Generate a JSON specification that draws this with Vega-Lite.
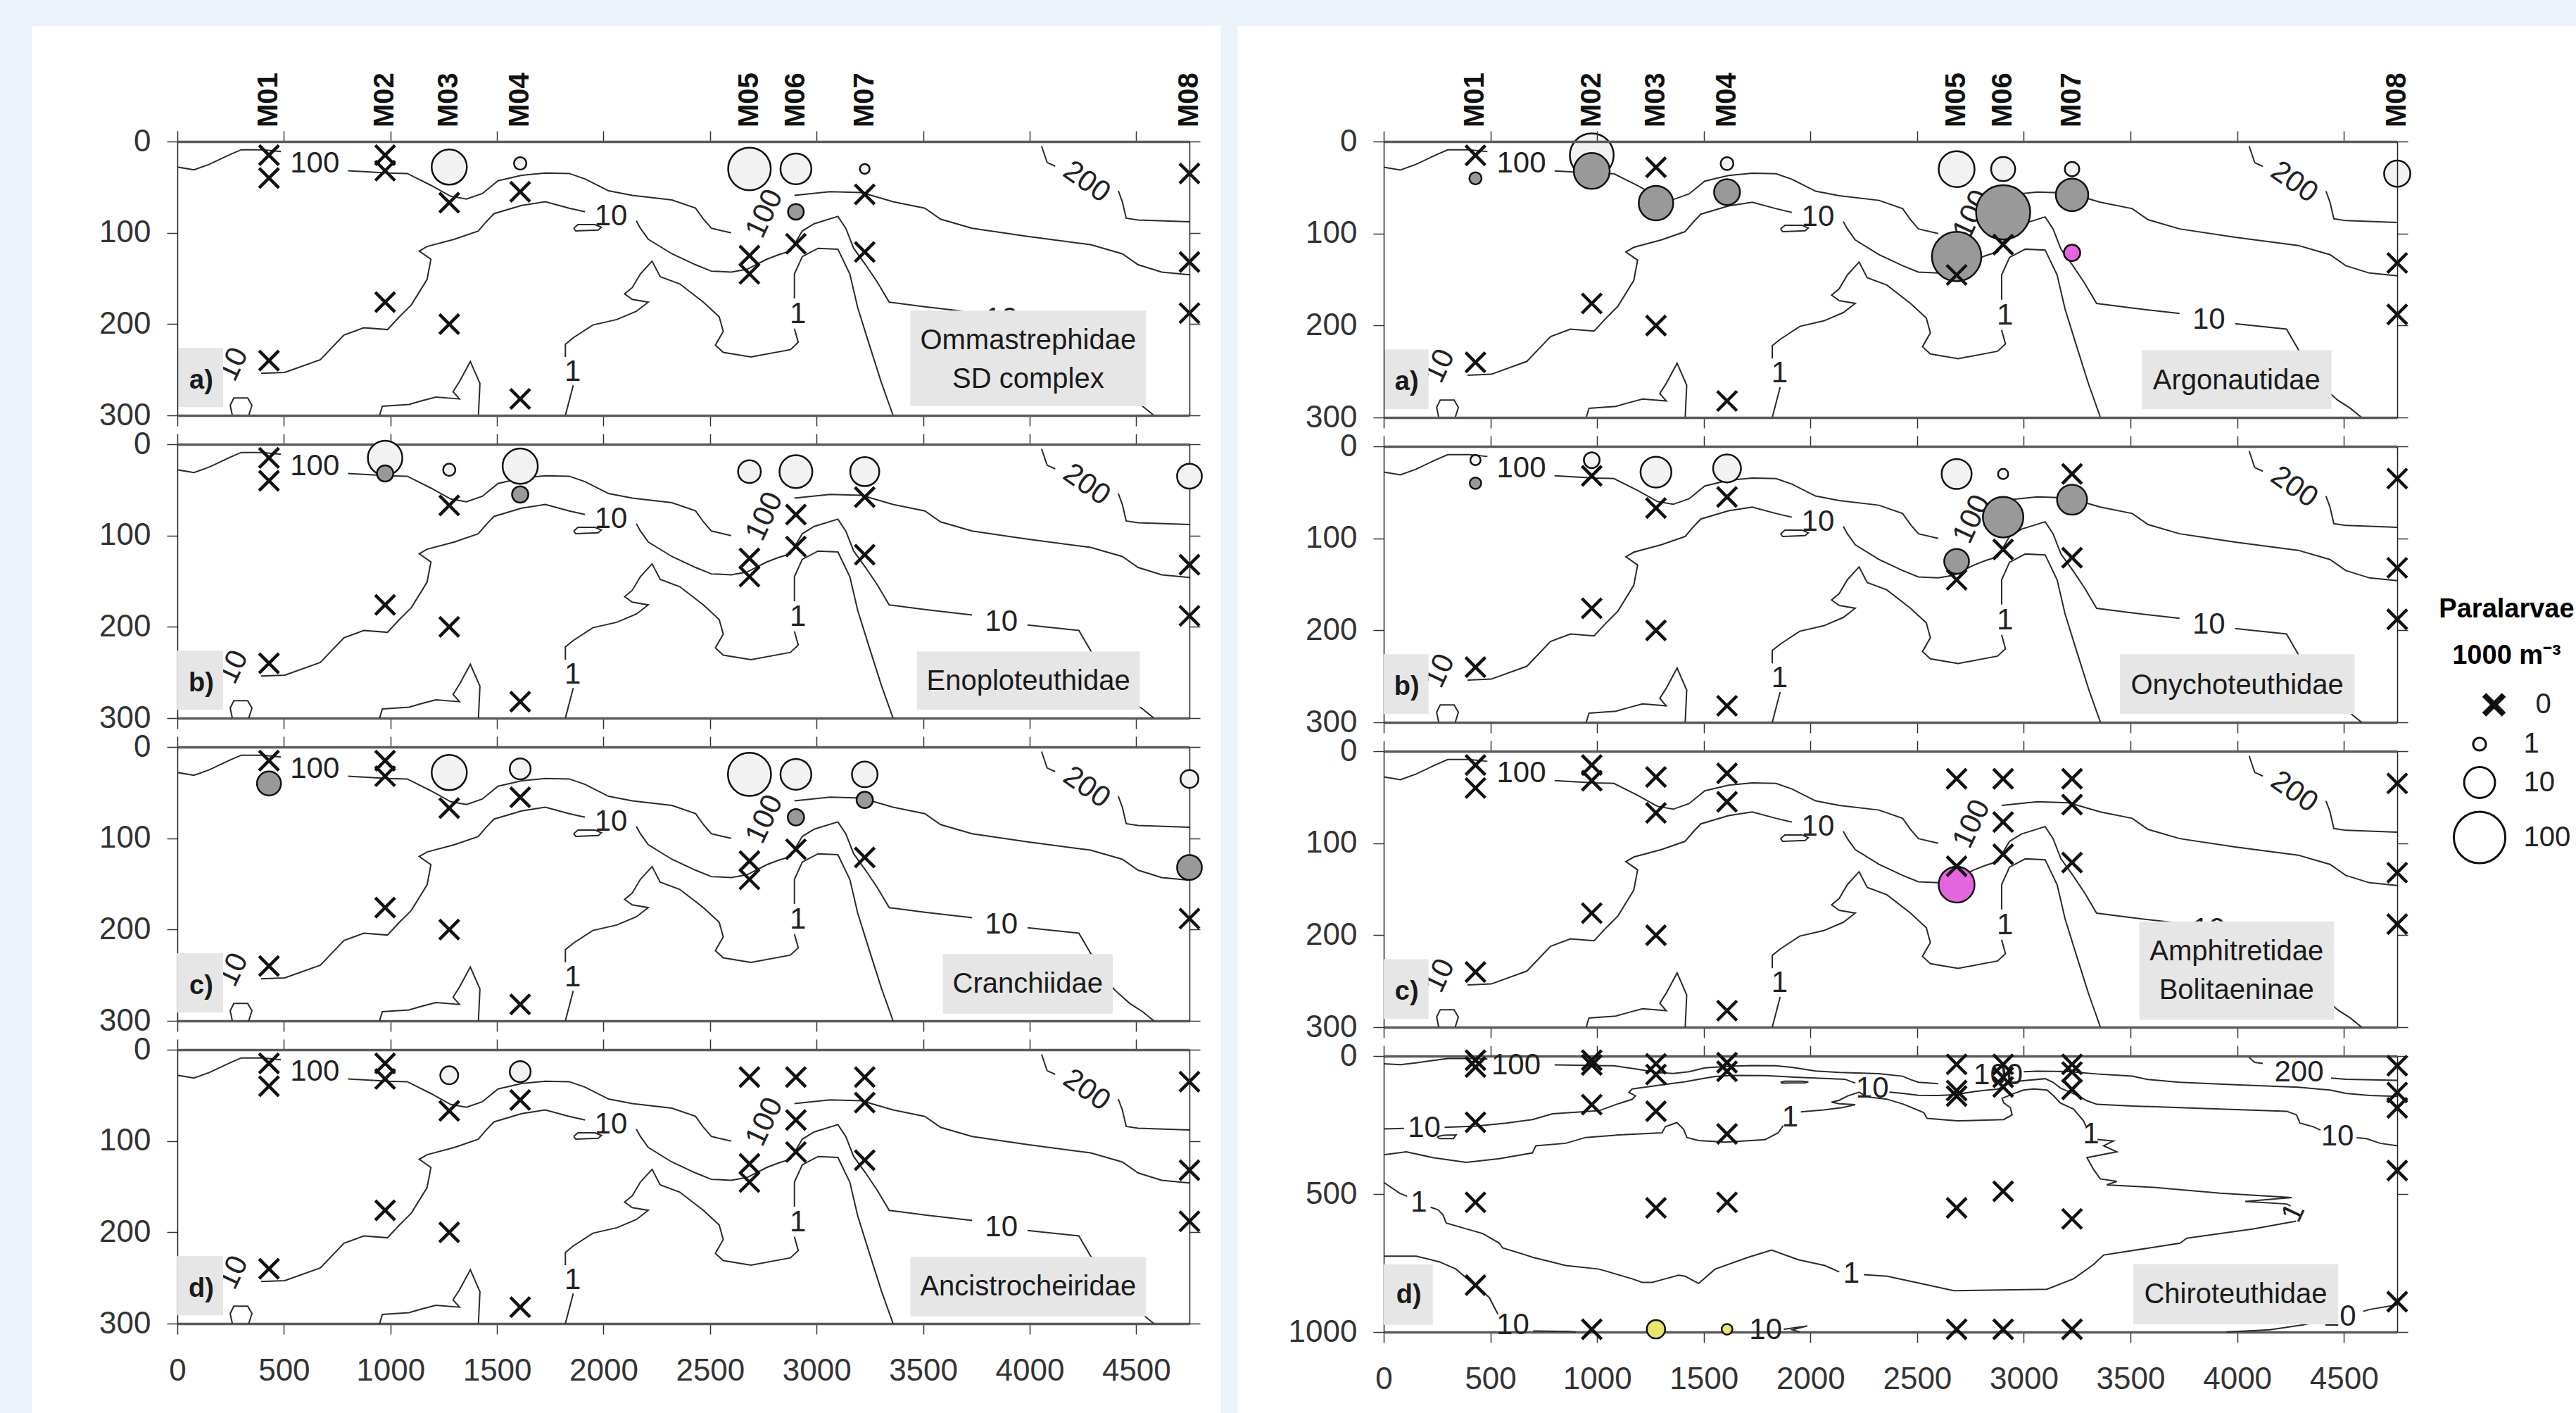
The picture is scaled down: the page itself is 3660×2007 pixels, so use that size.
{
"$schema":"https://vega.github.io/schema/vega-lite/v6.json",
"background":"#EBF2FA",
"padding":{"left":45,"top":36,"right":0,"bottom":0},
"autosize":{"type":"pad"},
"spacing":23,
"resolve":{"scale":{"size":"independent","fill":"independent","shape":"independent"}},
"config":{
 "view":{"stroke":null},
 "axis":{"domainColor":"#222222","domainWidth":1.5,"tickColor":"#333333","tickWidth":1.5,"tickSize":15,"labelFont":"Liberation Sans","labelFontSize":44,"labelColor":"#333333","labelFlush":false,"labelOverlap":false,"grid":false},
 "axisX":{"domainColor":"#5a5a5a","domainWidth":3.5,"labelPadding":30},
 "axisY":{"labelPadding":23},
 "text":{"font":"Liberation Sans"}
},
"datasets":{
"stations":[{"st":"M01","dist":430},{"st":"M02","dist":975},{"st":"M03","dist":1276},{"st":"M04","dist":1609},{"st":"M05","dist":2685},{"st":"M06","dist":2903},{"st":"M07","dist":3226},{"st":"M08","dist":4750}],
"c1":[
{"s":"h1","x":0,"y":28},{"s":"h1","x":78,"y":31},{"s":"h1","x":150,"y":25},{"s":"h1","x":250,"y":14},{"s":"h1","x":300,"y":9},{"s":"h1","x":400,"y":9},{"s":"h1","x":486,"y":11},
{"s":"h2","x":801,"y":32},{"s":"h2","x":986,"y":34.5},{"s":"h2","x":1079,"y":35},{"s":"h2","x":1190,"y":48},{"s":"h2","x":1283,"y":60},{"s":"h2","x":1357,"y":63},{"s":"h2","x":1431,"y":57},{"s":"h2","x":1505,"y":43},{"s":"h2","x":1616,"y":37},{"s":"h2","x":1727,"y":34.5},{"s":"h2","x":1839,"y":35},{"s":"h2","x":1913,"y":41},{"s":"h2","x":2024,"y":54},{"s":"h2","x":2135,"y":59},{"s":"h2","x":2321,"y":64},{"s":"h2","x":2432,"y":73},{"s":"h2","x":2469,"y":85},{"s":"h2","x":2506,"y":95},{"s":"h2","x":2599,"y":100},
{"s":"h3","x":2896,"y":59},{"s":"h3","x":3063,"y":55},{"s":"h3","x":3211,"y":56},{"s":"h3","x":3359,"y":66},{"s":"h3","x":3508,"y":73},{"s":"h3","x":3582,"y":85},{"s":"h3","x":3730,"y":95},{"s":"h3","x":3990,"y":104},{"s":"h3","x":4286,"y":113},{"s":"h3","x":4435,"y":123},{"s":"h3","x":4509,"y":135},{"s":"h3","x":4620,"y":143},{"s":"h3","x":4750,"y":146},
{"s":"t1","x":4056,"y":5},{"s":"t1","x":4082,"y":23},{"s":"t1","x":4120,"y":27},
{"s":"t2","x":4416,"y":54},{"s":"t2","x":4435,"y":66},{"s":"t2","x":4453,"y":84},{"s":"t2","x":4509,"y":86},{"s":"t2","x":4750,"y":88},
{"s":"d1","x":393,"y":254},{"s":"d1","x":504,"y":253},{"s":"d1","x":671,"y":239},{"s":"d1","x":782,"y":212},{"s":"d1","x":875,"y":204},{"s":"d1","x":986,"y":206},{"s":"d1","x":1042,"y":192},{"s":"d1","x":1098,"y":179},{"s":"d1","x":1172,"y":151},{"s":"d1","x":1190,"y":129},{"s":"d1","x":1135,"y":120},{"s":"d1","x":1172,"y":115},{"s":"d1","x":1301,"y":107},{"s":"d1","x":1412,"y":98},{"s":"d1","x":1449,"y":88},{"s":"d1","x":1486,"y":79},{"s":"d1","x":1616,"y":70},{"s":"d1","x":1727,"y":66},{"s":"d1","x":1839,"y":73},{"s":"d1","x":1913,"y":77},
{"s":"d2","x":2154,"y":87},{"s":"d2","x":2173,"y":95},{"s":"d2","x":2210,"y":107},{"s":"d2","x":2321,"y":123},{"s":"d2","x":2432,"y":135},{"s":"d2","x":2506,"y":142},{"s":"d2","x":2599,"y":143},{"s":"d2","x":2673,"y":140},{"s":"d2","x":2766,"y":129},{"s":"d2","x":2822,"y":124},{"s":"d2","x":2877,"y":120},{"s":"d2","x":2933,"y":98},{"s":"d2","x":2989,"y":90},{"s":"d2","x":3100,"y":82},{"s":"d2","x":3137,"y":95},{"s":"d2","x":3174,"y":117},{"s":"d2","x":3230,"y":135},{"s":"d2","x":3285,"y":154},{"s":"d2","x":3341,"y":176},{"s":"d2","x":3508,"y":181},{"s":"d2","x":3730,"y":187},
{"s":"d3","x":3990,"y":198},{"s":"d3","x":4231,"y":204},{"s":"d3","x":4286,"y":226},{"s":"d3","x":4340,"y":250},{"s":"d3","x":4398,"y":266},{"s":"d3","x":4470,"y":281},{"s":"d3","x":4530,"y":290},{"s":"d3","x":4583,"y":300},
{"s":"u1","x":1821,"y":300},{"s":"u1","x":1858,"y":267},
{"s":"u2","x":1821,"y":236},{"s":"u2","x":1821,"y":222},{"s":"u2","x":1858,"y":215},{"s":"u2","x":1950,"y":201},{"s":"u2","x":2062,"y":195},{"s":"u2","x":2154,"y":186},{"s":"u2","x":2210,"y":176},{"s":"u2","x":2135,"y":173},{"s":"u2","x":2099,"y":167},{"s":"u2","x":2135,"y":160},{"s":"u2","x":2173,"y":145},{"s":"u2","x":2228,"y":131},{"s":"u2","x":2266,"y":148},{"s":"u2","x":2358,"y":156},{"s":"u2","x":2469,"y":176},{"s":"u2","x":2543,"y":192},{"s":"u2","x":2562,"y":208},{"s":"u2","x":2525,"y":223},{"s":"u2","x":2562,"y":231},{"s":"u2","x":2692,"y":236},{"s":"u2","x":2877,"y":228},{"s":"u2","x":2914,"y":220},{"s":"u2","x":2896,"y":205},
{"s":"u3","x":2896,"y":172},{"s":"u3","x":2896,"y":145},{"s":"u3","x":2933,"y":126},{"s":"u3","x":3007,"y":117},{"s":"u3","x":3100,"y":118},{"s":"u3","x":3156,"y":145},{"s":"u3","x":3193,"y":182},{"s":"u3","x":3248,"y":223},{"s":"u3","x":3304,"y":264},{"s":"u3","x":3359,"y":300},
{"s":"b1","x":949,"y":300},{"s":"b1","x":962,"y":290},{"s":"b1","x":1087,"y":288},{"s":"b1","x":1147,"y":284},{"s":"b1","x":1213,"y":280},{"s":"b1","x":1324,"y":282},{"s":"b1","x":1294,"y":274},{"s":"b1","x":1324,"y":263},{"s":"b1","x":1375,"y":241},{"s":"b1","x":1420,"y":265},{"s":"b1","x":1413,"y":300},
{"s":"lp","x":258,"y":300},{"s":"lp","x":248,"y":289},{"s":"lp","x":265,"y":281},{"s":"lp","x":330,"y":281},{"s":"lp","x":350,"y":289},{"s":"lp","x":335,"y":300},
{"s":"q","x":1860,"y":95},{"s":"q","x":1880,"y":91},{"s":"q","x":1960,"y":91},{"s":"q","x":1990,"y":94},{"s":"q","x":1975,"y":97},{"s":"q","x":1870,"y":98},{"s":"q","x":1860,"y":95}
],
"c1lab":[
{"t":"100","x":645,"y":24,"o":"flat"},{"t":"10","x":2035,"y":82,"o":"flat"},{"t":"100","x":2755,"y":79,"o":"up"},{"t":"200","x":4268,"y":44,"o":"down"},{"t":"1","x":1855,"y":252,"o":"flat"},{"t":"1","x":2912,"y":189,"o":"flat"},{"t":"10","x":262,"y":244,"o":"up"},{"t":"10","x":3867,"y":194,"o":"flat"}
],
"c2":[
{"s":"h1","x":0,"y":28},{"s":"h1","x":78,"y":31},{"s":"h1","x":150,"y":25},{"s":"h1","x":250,"y":14},{"s":"h1","x":300,"y":9},{"s":"h1","x":400,"y":9},{"s":"h1","x":486,"y":11},
{"s":"h2","x":801,"y":32},{"s":"h2","x":986,"y":34.5},{"s":"h2","x":1079,"y":35},{"s":"h2","x":1190,"y":48},{"s":"h2","x":1283,"y":60},{"s":"h2","x":1357,"y":63},{"s":"h2","x":1431,"y":57},{"s":"h2","x":1505,"y":43},{"s":"h2","x":1616,"y":37},{"s":"h2","x":1727,"y":34.5},{"s":"h2","x":1839,"y":35},{"s":"h2","x":1913,"y":41},{"s":"h2","x":2024,"y":54},{"s":"h2","x":2135,"y":59},{"s":"h2","x":2321,"y":64},{"s":"h2","x":2432,"y":73},{"s":"h2","x":2469,"y":85},{"s":"h2","x":2506,"y":95},{"s":"h2","x":2599,"y":100},
{"s":"h3","x":3000,"y":57},{"s":"h3","x":3063,"y":55},{"s":"h3","x":3211,"y":56},{"s":"h3","x":3359,"y":66},{"s":"h3","x":3508,"y":73},{"s":"h3","x":3582,"y":85},{"s":"h3","x":3730,"y":95},{"s":"h3","x":3990,"y":104},{"s":"h3","x":4286,"y":113},{"s":"h3","x":4435,"y":123},{"s":"h3","x":4509,"y":135},{"s":"h3","x":4620,"y":143},{"s":"h3","x":4750,"y":146},
{"s":"t1","x":4056,"y":5},{"s":"t1","x":4082,"y":23},{"s":"t1","x":4120,"y":27},
{"s":"t2","x":4440,"y":80},{"s":"t2","x":4509,"y":84},{"s":"t2","x":4750,"y":88},
{"s":"q","x":1860,"y":95},{"s":"q","x":1880,"y":91},{"s":"q","x":1960,"y":91},{"s":"q","x":1990,"y":94},{"s":"q","x":1975,"y":97},{"s":"q","x":1870,"y":98},{"s":"q","x":1860,"y":95},
{"s":"D0","x":0,"y":264},{"s":"D0","x":95,"y":262},
{"s":"D1a","x":285,"y":258},{"s":"D1a","x":433,"y":254},{"s":"D1a","x":573,"y":243},{"s":"D1a","x":697,"y":230},{"s":"D1a","x":791,"y":209},{"s":"D1a","x":915,"y":203},{"s":"D1a","x":1009,"y":198},{"s":"D1a","x":1102,"y":172},{"s":"D1a","x":1164,"y":157},{"s":"D1a","x":1180,"y":144},{"s":"D1a","x":1149,"y":132},{"s":"D1a","x":1164,"y":119},{"s":"D1a","x":1289,"y":106},{"s":"D1a","x":1413,"y":93},{"s":"D1a","x":1476,"y":84},{"s":"D1a","x":1553,"y":74},{"s":"D1a","x":1631,"y":70},{"s":"D1a","x":1787,"y":71},{"s":"D1a","x":1943,"y":77},{"s":"D1a","x":2161,"y":84},{"s":"D1a","x":2210,"y":98},
{"s":"D1b","x":2370,"y":131},{"s":"D1b","x":2432,"y":135},{"s":"D1b","x":2506,"y":142},{"s":"D1b","x":2599,"y":143},{"s":"D1b","x":2673,"y":140},{"s":"D1b","x":2766,"y":129},{"s":"D1b","x":2822,"y":124},{"s":"D1b","x":2877,"y":120},{"s":"D1b","x":2933,"y":98},{"s":"D1b","x":2989,"y":90},{"s":"D1b","x":3100,"y":82},{"s":"D1b","x":3137,"y":95},{"s":"D1b","x":3174,"y":117},{"s":"D1b","x":3233,"y":136},{"s":"D1b","x":3296,"y":162},{"s":"D1b","x":3343,"y":175},{"s":"D1b","x":3508,"y":181},{"s":"D1b","x":3730,"y":187},{"s":"D1b","x":3920,"y":192},{"s":"D1b","x":4232,"y":200},{"s":"D1b","x":4278,"y":213},{"s":"D1b","x":4294,"y":243},{"s":"D1b","x":4356,"y":256},{"s":"D1b","x":4390,"y":268},
{"s":"D1c","x":4560,"y":296},{"s":"D1c","x":4606,"y":299},{"s":"D1c","x":4669,"y":316},{"s":"D1c","x":4752,"y":325},
{"s":"LP2","x":250,"y":292},{"s":"LP2","x":280,"y":287},{"s":"LP2","x":339,"y":286},{"s":"LP2","x":327,"y":299},{"s":"LP2","x":262,"y":299},{"s":"LP2","x":250,"y":292},
{"s":"B1","x":0,"y":358},{"s":"B1","x":106,"y":347},{"s":"B1","x":230,"y":368},{"s":"B1","x":386,"y":385},{"s":"B1","x":542,"y":372},{"s":"B1","x":697,"y":351},{"s":"B1","x":713,"y":325},{"s":"B1","x":853,"y":316},{"s":"B1","x":946,"y":295},{"s":"B1","x":1102,"y":286},{"s":"B1","x":1304,"y":278},{"s":"B1","x":1320,"y":256},{"s":"B1","x":1374,"y":241},{"s":"B1","x":1405,"y":265},{"s":"B1","x":1421,"y":295},{"s":"B1","x":1476,"y":306},{"s":"B1","x":1600,"y":312},{"s":"B1","x":1787,"y":303},{"s":"B1","x":1849,"y":278},{"s":"B1","x":1872,"y":252},
{"s":"B2","x":1955,"y":202},{"s":"B2","x":2062,"y":195},{"s":"B2","x":2154,"y":186},{"s":"B2","x":2210,"y":176},{"s":"B2","x":2135,"y":173},{"s":"B2","x":2099,"y":167},{"s":"B2","x":2135,"y":160},{"s":"B2","x":2173,"y":145},{"s":"B2","x":2228,"y":131},{"s":"B2","x":2266,"y":148},{"s":"B2","x":2358,"y":156},{"s":"B2","x":2438,"y":175},{"s":"B2","x":2531,"y":205},{"s":"B2","x":2547,"y":226},{"s":"B2","x":2687,"y":235},{"s":"B2","x":2906,"y":230},{"s":"B2","x":2945,"y":213},{"s":"B2","x":2937,"y":187},{"s":"B2","x":2906,"y":170},{"s":"B2","x":2898,"y":153},{"s":"B2","x":2952,"y":136},{"s":"B2","x":2999,"y":123},{"s":"B2","x":3046,"y":119},{"s":"B2","x":3108,"y":123},{"s":"B2","x":3140,"y":144},{"s":"B2","x":3171,"y":170},{"s":"B2","x":3233,"y":192},{"s":"B2","x":3280,"y":235},{"s":"B2","x":3292,"y":255},
{"s":"B3","x":3345,"y":302},{"s":"B3","x":3420,"y":308},{"s":"B3","x":3374,"y":325},{"s":"B3","x":3436,"y":347},{"s":"B3","x":3296,"y":368},{"s":"B3","x":3327,"y":411},{"s":"B3","x":3358,"y":445},{"s":"B3","x":3436,"y":454},{"s":"B3","x":3389,"y":467},{"s":"B3","x":3608,"y":476},{"s":"B3","x":3920,"y":497},{"s":"B3","x":4255,"y":513},{"s":"B3","x":4037,"y":527},{"s":"B3","x":4232,"y":536},{"s":"B3","x":4250,"y":543},
{"s":"B4","x":4276,"y":598},{"s":"B4","x":4076,"y":626},{"s":"B4","x":3764,"y":660},{"s":"B4","x":3732,"y":678},{"s":"B4","x":3374,"y":721},{"s":"B4","x":3327,"y":755},{"s":"B4","x":3233,"y":807},{"s":"B4","x":3108,"y":845},{"s":"B4","x":2672,"y":850},{"s":"B4","x":2360,"y":798},{"s":"B4","x":2250,"y":792},
{"s":"B5","x":2135,"y":782},{"s":"B5","x":2067,"y":759},{"s":"B5","x":1943,"y":738},{"s":"B5","x":1818,"y":703},{"s":"B5","x":1709,"y":729},{"s":"B5","x":1553,"y":772},{"s":"B5","x":1476,"y":824},{"s":"B5","x":1413,"y":798},{"s":"B5","x":1382,"y":794},{"s":"B5","x":1320,"y":807},{"s":"B5","x":1258,"y":820},{"s":"B5","x":1211,"y":820},{"s":"B5","x":1164,"y":807},{"s":"B5","x":1009,"y":772},{"s":"B5","x":853,"y":759},{"s":"B5","x":697,"y":729},{"s":"B5","x":666,"y":721},{"s":"B5","x":557,"y":695},{"s":"B5","x":542,"y":678},{"s":"B5","x":464,"y":643},{"s":"B5","x":386,"y":626},{"s":"B5","x":293,"y":605},{"s":"B5","x":277,"y":574},{"s":"B5","x":254,"y":557},{"s":"B5","x":220,"y":548},
{"s":"B6","x":110,"y":508},{"s":"B6","x":75,"y":497},{"s":"B6","x":0,"y":458},
{"s":"E1","x":0,"y":725},{"s":"E1","x":153,"y":725},{"s":"E1","x":262,"y":746},{"s":"E1","x":339,"y":772},{"s":"E1","x":417,"y":824},{"s":"E1","x":495,"y":875},{"s":"E1","x":518,"y":910},{"s":"E1","x":535,"y":935},
{"s":"E2","x":700,"y":996},{"s":"E2","x":869,"y":998},{"s":"E2","x":900,"y":1000},
{"s":"E3","x":1875,"y":990},{"s":"E3","x":1985,"y":978},{"s":"E3","x":1915,"y":992},{"s":"E3","x":1950,"y":1000},
{"s":"E4","x":3951,"y":1000},{"s":"E4","x":4154,"y":992},{"s":"E4","x":4310,"y":974},{"s":"E4","x":4380,"y":962},
{"s":"E5","x":4590,"y":925},{"s":"E5","x":4622,"y":918},{"s":"E5","x":4752,"y":901}
],
"c2lab":[
{"t":"100","x":620,"y":33,"o":"flat"},{"t":"100","x":2880,"y":70,"o":"flat"},{"t":"200","x":4290,"y":58,"o":"flat"},{"t":"10","x":190,"y":260,"o":"flat"},{"t":"10","x":2290,"y":118,"o":"flat"},{"t":"1","x":1905,"y":222,"o":"flat"},{"t":"1","x":3315,"y":282,"o":"flat"},{"t":"1","x":4263,"y":568,"o":"up"},{"t":"1","x":2192,"y":789,"o":"flat"},{"t":"1","x":165,"y":530,"o":"flat"},{"t":"10","x":4470,"y":290,"o":"flat"},{"t":"10","x":605,"y":975,"o":"flat"},{"t":"10","x":1790,"y":992,"o":"flat"},{"t":"10","x":4480,"y":944,"o":"flat"}
],
"boxes":[
{"p":"La","k":"sp","x1":3440,"x2":4546,"y1":185,"y2":290,"xc":3993,"yc":218,"lab":["Ommastrephidae","SD complex"]},
{"p":"La","k":"let","x1":0,"x2":215,"y1":226,"y2":291,"xc":112,"yc":262,"lab":"a)"},
{"p":"Lb","k":"sp","x1":3471,"x2":4517,"y1":227,"y2":291,"xc":3994,"yc":260,"lab":"Enoploteuthidae"},
{"p":"Lb","k":"let","x1":0,"x2":215,"y1":226,"y2":291,"xc":112,"yc":262,"lab":"b)"},
{"p":"Lc","k":"sp","x1":3593,"x2":4390,"y1":227,"y2":292,"xc":3991,"yc":260,"lab":"Cranchiidae"},
{"p":"Lc","k":"let","x1":0,"x2":215,"y1":226,"y2":291,"xc":112,"yc":262,"lab":"c)"},
{"p":"Ld","k":"sp","x1":3440,"x2":4546,"y1":227,"y2":292,"xc":3993,"yc":260,"lab":"Ancistrocheiridae"},
{"p":"Ld","k":"let","x1":0,"x2":215,"y1":226,"y2":291,"xc":112,"yc":262,"lab":"d)"},
{"p":"Ra","k":"sp","x1":3553,"x2":4442,"y1":227,"y2":291,"xc":3997,"yc":260,"lab":"Argonautidae"},
{"p":"Ra","k":"let","x1":0,"x2":210,"y1":226,"y2":291,"xc":108,"yc":262,"lab":"a)"},
{"p":"Rb","k":"sp","x1":3450,"x2":4550,"y1":226,"y2":291,"xc":4000,"yc":260,"lab":"Onychoteuthidae"},
{"p":"Rb","k":"let","x1":0,"x2":210,"y1":226,"y2":291,"xc":108,"yc":262,"lab":"b)"},
{"p":"Rc","k":"sp","x1":3541,"x2":4454,"y1":185,"y2":292,"xc":3997,"yc":218,"lab":["Amphitretidae","Bolitaeninae"]},
{"p":"Rc","k":"let","x1":0,"x2":210,"y1":226,"y2":291,"xc":108,"yc":262,"lab":"c)"},
{"p":"Rd","k":"sp","x1":3513,"x2":4474,"y1":754,"y2":972,"xc":3993,"yc":865,"lab":"Chiroteuthidae"},
{"p":"Rd","k":"let","x1":0,"x2":230,"y1":755,"y2":974,"xc":118,"yc":868,"lab":"d)"}
],
"obs":[
{"p":"La","dist":430,"depth":15,"abund":0},{"p":"La","dist":430,"depth":40,"abund":0},{"p":"La","dist":430,"depth":240,"abund":0},
{"p":"La","dist":975,"depth":15,"abund":0},{"p":"La","dist":975,"depth":32,"abund":0},{"p":"La","dist":975,"depth":176,"abund":0},
{"p":"La","dist":1276,"depth":28,"abund":15,"grp":"g1"},{"p":"La","dist":1276,"depth":67,"abund":0},{"p":"La","dist":1276,"depth":200,"abund":0},
{"p":"La","dist":1609,"depth":24,"abund":0.95,"grp":"g1"},{"p":"La","dist":1609,"depth":55,"abund":0},{"p":"La","dist":1609,"depth":282,"abund":0},
{"p":"La","dist":2685,"depth":30,"abund":33,"grp":"g1"},{"p":"La","dist":2685,"depth":125,"abund":0},{"p":"La","dist":2685,"depth":145,"abund":0},
{"p":"La","dist":2903,"depth":30,"abund":10,"grp":"g1"},{"p":"La","dist":2903,"depth":77,"abund":1.4,"grp":"g2"},{"p":"La","dist":2903,"depth":112,"abund":0},
{"p":"La","dist":3226,"depth":30,"abund":0.6,"grp":"g1"},{"p":"La","dist":3226,"depth":58,"abund":0},{"p":"La","dist":3226,"depth":121,"abund":0},
{"p":"La","dist":4750,"depth":35,"abund":0},{"p":"La","dist":4750,"depth":132,"abund":0},{"p":"La","dist":4750,"depth":188,"abund":0},
{"p":"Lb","dist":430,"depth":15,"abund":0},{"p":"Lb","dist":430,"depth":40,"abund":0},{"p":"Lb","dist":430,"depth":240,"abund":0},
{"p":"Lb","dist":975,"depth":15,"abund":14,"grp":"g1"},{"p":"Lb","dist":975,"depth":32,"abund":1.5,"grp":"g2"},{"p":"Lb","dist":975,"depth":176,"abund":0},
{"p":"Lb","dist":1276,"depth":28,"abund":0.92,"grp":"g1"},{"p":"Lb","dist":1276,"depth":67,"abund":0},{"p":"Lb","dist":1276,"depth":200,"abund":0},
{"p":"Lb","dist":1609,"depth":24,"abund":15,"grp":"g1"},{"p":"Lb","dist":1609,"depth":55,"abund":1.5,"grp":"g2"},{"p":"Lb","dist":1609,"depth":282,"abund":0},
{"p":"Lb","dist":2685,"depth":30,"abund":3.3,"grp":"g1"},{"p":"Lb","dist":2685,"depth":125,"abund":0},{"p":"Lb","dist":2685,"depth":145,"abund":0},
{"p":"Lb","dist":2903,"depth":30,"abund":12,"grp":"g1"},{"p":"Lb","dist":2903,"depth":77,"abund":0},{"p":"Lb","dist":2903,"depth":112,"abund":0},
{"p":"Lb","dist":3226,"depth":30,"abund":7.7,"grp":"g1"},{"p":"Lb","dist":3226,"depth":58,"abund":0},{"p":"Lb","dist":3226,"depth":121,"abund":0},
{"p":"Lb","dist":4750,"depth":35,"abund":4.3,"grp":"g1"},{"p":"Lb","dist":4750,"depth":132,"abund":0},{"p":"Lb","dist":4750,"depth":188,"abund":0},
{"p":"Lc","dist":430,"depth":15,"abund":0},{"p":"Lc","dist":430,"depth":40,"abund":3.9,"grp":"g2"},{"p":"Lc","dist":430,"depth":240,"abund":0},
{"p":"Lc","dist":975,"depth":15,"abund":0},{"p":"Lc","dist":975,"depth":32,"abund":0},{"p":"Lc","dist":975,"depth":176,"abund":0},
{"p":"Lc","dist":1276,"depth":28,"abund":15,"grp":"g1"},{"p":"Lc","dist":1276,"depth":67,"abund":0},{"p":"Lc","dist":1276,"depth":200,"abund":0},
{"p":"Lc","dist":1609,"depth":24,"abund":2.6,"grp":"g1"},{"p":"Lc","dist":1609,"depth":55,"abund":0},{"p":"Lc","dist":1609,"depth":282,"abund":0},
{"p":"Lc","dist":2685,"depth":30,"abund":35,"grp":"g1"},{"p":"Lc","dist":2685,"depth":125,"abund":0},{"p":"Lc","dist":2685,"depth":145,"abund":0},
{"p":"Lc","dist":2903,"depth":30,"abund":10,"grp":"g1"},{"p":"Lc","dist":2903,"depth":77,"abund":1.5,"grp":"g2"},{"p":"Lc","dist":2903,"depth":112,"abund":0},
{"p":"Lc","dist":3226,"depth":30,"abund":4.8,"grp":"g1"},{"p":"Lc","dist":3226,"depth":58,"abund":1.5,"grp":"g2"},{"p":"Lc","dist":3226,"depth":121,"abund":0},
{"p":"Lc","dist":4750,"depth":35,"abund":1.8,"grp":"g1"},{"p":"Lc","dist":4750,"depth":132,"abund":4.3,"grp":"g2"},{"p":"Lc","dist":4750,"depth":188,"abund":0},
{"p":"Ld","dist":430,"depth":15,"abund":0},{"p":"Ld","dist":430,"depth":40,"abund":0},{"p":"Ld","dist":430,"depth":240,"abund":0},
{"p":"Ld","dist":975,"depth":15,"abund":0},{"p":"Ld","dist":975,"depth":32,"abund":0},{"p":"Ld","dist":975,"depth":176,"abund":0},
{"p":"Ld","dist":1276,"depth":28,"abund":1.8,"grp":"g1"},{"p":"Ld","dist":1276,"depth":67,"abund":0},{"p":"Ld","dist":1276,"depth":200,"abund":0},
{"p":"Ld","dist":1609,"depth":24,"abund":2.6,"grp":"g1"},{"p":"Ld","dist":1609,"depth":55,"abund":0},{"p":"Ld","dist":1609,"depth":282,"abund":0},
{"p":"Ld","dist":2685,"depth":30,"abund":0},{"p":"Ld","dist":2685,"depth":125,"abund":0},{"p":"Ld","dist":2685,"depth":145,"abund":0},
{"p":"Ld","dist":2903,"depth":30,"abund":0},{"p":"Ld","dist":2903,"depth":77,"abund":0},{"p":"Ld","dist":2903,"depth":112,"abund":0},
{"p":"Ld","dist":3226,"depth":30,"abund":0},{"p":"Ld","dist":3226,"depth":58,"abund":0},{"p":"Ld","dist":3226,"depth":121,"abund":0},
{"p":"Ld","dist":4750,"depth":35,"abund":0},{"p":"Ld","dist":4750,"depth":132,"abund":0},{"p":"Ld","dist":4750,"depth":188,"abund":0},
{"p":"Ra","dist":430,"depth":15,"abund":0},{"p":"Ra","dist":430,"depth":40,"abund":0.9,"grp":"g2"},{"p":"Ra","dist":430,"depth":240,"abund":0},
{"p":"Ra","dist":975,"depth":15,"abund":38,"grp":"g1"},{"p":"Ra","dist":975,"depth":32,"abund":16,"grp":"g2"},{"p":"Ra","dist":975,"depth":176,"abund":0},
{"p":"Ra","dist":1276,"depth":28,"abund":0},{"p":"Ra","dist":1276,"depth":67,"abund":14,"grp":"g2"},{"p":"Ra","dist":1276,"depth":200,"abund":0},
{"p":"Ra","dist":1609,"depth":24,"abund":1,"grp":"g1"},{"p":"Ra","dist":1609,"depth":55,"abund":5,"grp":"g2"},{"p":"Ra","dist":1609,"depth":282,"abund":0},
{"p":"Ra","dist":2685,"depth":30,"abund":16,"grp":"g1"},{"p":"Ra","dist":2685,"depth":125,"abund":76,"grp":"g2"},{"p":"Ra","dist":2685,"depth":145,"abund":0},
{"p":"Ra","dist":2903,"depth":30,"abund":3.9,"grp":"g1"},{"p":"Ra","dist":2903,"depth":77,"abund":147,"grp":"g2"},{"p":"Ra","dist":2903,"depth":112,"abund":0},
{"p":"Ra","dist":3226,"depth":30,"abund":1.2,"grp":"g1"},{"p":"Ra","dist":3226,"depth":58,"abund":11.5,"grp":"g2"},{"p":"Ra","dist":3226,"depth":121,"abund":1.5,"grp":"g3"},
{"p":"Ra","dist":4750,"depth":35,"abund":5.2,"grp":"g1"},{"p":"Ra","dist":4750,"depth":132,"abund":0},{"p":"Ra","dist":4750,"depth":188,"abund":0},
{"p":"Rb","dist":430,"depth":15,"abund":0.65,"grp":"g1"},{"p":"Rb","dist":430,"depth":40,"abund":0.8,"grp":"g2"},{"p":"Rb","dist":430,"depth":240,"abund":0},
{"p":"Rb","dist":975,"depth":15,"abund":1.4,"grp":"g1"},{"p":"Rb","dist":975,"depth":32,"abund":0},{"p":"Rb","dist":975,"depth":176,"abund":0},
{"p":"Rb","dist":1276,"depth":28,"abund":10,"grp":"g1"},{"p":"Rb","dist":1276,"depth":67,"abund":0},{"p":"Rb","dist":1276,"depth":200,"abund":0},
{"p":"Rb","dist":1609,"depth":24,"abund":6.5,"grp":"g1"},{"p":"Rb","dist":1609,"depth":55,"abund":0},{"p":"Rb","dist":1609,"depth":282,"abund":0},
{"p":"Rb","dist":2685,"depth":30,"abund":8.8,"grp":"g1"},{"p":"Rb","dist":2685,"depth":125,"abund":4.3,"grp":"g2"},{"p":"Rb","dist":2685,"depth":145,"abund":0},
{"p":"Rb","dist":2903,"depth":30,"abund":0.65,"grp":"g1"},{"p":"Rb","dist":2903,"depth":77,"abund":26,"grp":"g2"},{"p":"Rb","dist":2903,"depth":112,"abund":0},
{"p":"Rb","dist":3226,"depth":30,"abund":0},{"p":"Rb","dist":3226,"depth":58,"abund":8.8,"grp":"g2"},{"p":"Rb","dist":3226,"depth":121,"abund":0},
{"p":"Rb","dist":4750,"depth":35,"abund":0},{"p":"Rb","dist":4750,"depth":132,"abund":0},{"p":"Rb","dist":4750,"depth":188,"abund":0},
{"p":"Rc","dist":430,"depth":15,"abund":0},{"p":"Rc","dist":430,"depth":40,"abund":0},{"p":"Rc","dist":430,"depth":240,"abund":0},
{"p":"Rc","dist":975,"depth":15,"abund":0},{"p":"Rc","dist":975,"depth":32,"abund":0},{"p":"Rc","dist":975,"depth":176,"abund":0},
{"p":"Rc","dist":1276,"depth":28,"abund":0},{"p":"Rc","dist":1276,"depth":67,"abund":0},{"p":"Rc","dist":1276,"depth":200,"abund":0},
{"p":"Rc","dist":1609,"depth":24,"abund":0},{"p":"Rc","dist":1609,"depth":55,"abund":0},{"p":"Rc","dist":1609,"depth":282,"abund":0},
{"p":"Rc","dist":2685,"depth":30,"abund":0},{"p":"Rc","dist":2685,"depth":125,"abund":0},{"p":"Rc","dist":2685,"depth":145,"abund":16,"grp":"g3"},
{"p":"Rc","dist":2903,"depth":30,"abund":0},{"p":"Rc","dist":2903,"depth":77,"abund":0},{"p":"Rc","dist":2903,"depth":112,"abund":0},
{"p":"Rc","dist":3226,"depth":30,"abund":0},{"p":"Rc","dist":3226,"depth":58,"abund":0},{"p":"Rc","dist":3226,"depth":121,"abund":0},
{"p":"Rc","dist":4750,"depth":35,"abund":0},{"p":"Rc","dist":4750,"depth":132,"abund":0},{"p":"Rc","dist":4750,"depth":188,"abund":0},
{"p":"Rd","dist":430,"depth":15,"abund":0},{"p":"Rd","dist":430,"depth":40,"abund":0},{"p":"Rd","dist":430,"depth":240,"abund":0},{"p":"Rd","dist":430,"depth":530,"abund":0},{"p":"Rd","dist":430,"depth":830,"abund":0},
{"p":"Rd","dist":975,"depth":15,"abund":0},{"p":"Rd","dist":975,"depth":32,"abund":0},{"p":"Rd","dist":975,"depth":176,"abund":0},{"p":"Rd","dist":975,"depth":990,"abund":0},
{"p":"Rd","dist":1276,"depth":28,"abund":0},{"p":"Rd","dist":1276,"depth":67,"abund":0},{"p":"Rd","dist":1276,"depth":200,"abund":0},{"p":"Rd","dist":1276,"depth":550,"abund":0},{"p":"Rd","dist":1276,"depth":990,"abund":1.9,"grp":"g4"},
{"p":"Rd","dist":1609,"depth":24,"abund":0},{"p":"Rd","dist":1609,"depth":55,"abund":0},{"p":"Rd","dist":1609,"depth":282,"abund":0},{"p":"Rd","dist":1609,"depth":530,"abund":0},{"p":"Rd","dist":1609,"depth":990,"abund":0.7,"grp":"g4"},
{"p":"Rd","dist":2685,"depth":30,"abund":0},{"p":"Rd","dist":2685,"depth":125,"abund":0},{"p":"Rd","dist":2685,"depth":145,"abund":0},{"p":"Rd","dist":2685,"depth":550,"abund":0},{"p":"Rd","dist":2685,"depth":990,"abund":0},
{"p":"Rd","dist":2903,"depth":30,"abund":0},{"p":"Rd","dist":2903,"depth":77,"abund":0},{"p":"Rd","dist":2903,"depth":112,"abund":0},{"p":"Rd","dist":2903,"depth":490,"abund":0},{"p":"Rd","dist":2903,"depth":990,"abund":0},
{"p":"Rd","dist":3226,"depth":30,"abund":0},{"p":"Rd","dist":3226,"depth":58,"abund":0},{"p":"Rd","dist":3226,"depth":121,"abund":0},{"p":"Rd","dist":3226,"depth":590,"abund":0},{"p":"Rd","dist":3226,"depth":990,"abund":0},
{"p":"Rd","dist":4750,"depth":35,"abund":0},{"p":"Rd","dist":4750,"depth":132,"abund":0},{"p":"Rd","dist":4750,"depth":188,"abund":0},{"p":"Rd","dist":4750,"depth":415,"abund":0},{"p":"Rd","dist":4750,"depth":890,"abund":0}
]
},
"hconcat":[
{"bounds":"flush","spacing":41,"resolve":{"scale":{"size":"independent","fill":"independent","shape":"independent"}},"vconcat":[
{"width":1438,"height":389,"resolve":{"axis":{"x":"independent","y":"independent"}},"layer":[
 {"data":{"values":[{}]},"mark":{"type":"rect","fill":"#ffffff"},"encoding":{"x":{"datum":-682,"type":"quantitative","scale":{"domain":[0,4750],"nice":false,"zero":false},"axis":null},"x2":{"datum":4897},"y":{"datum":-126.5,"type":"quantitative","scale":{"domain":[0,300],"nice":false,"zero":false,"reverse":true},"axis":null},"y2":{"datum":1393}}},
 {"data":{"name":"c1"},"mark":{"type":"line","color":"#2a2a2a","strokeWidth":2},"encoding":{"x":{"field":"x","type":"quantitative","scale":{"domain":[0,4750],"nice":false,"zero":false},"axis":{"orient":"bottom","zindex":1,"values":[0,500,1000,1500,2000,2500,3000,3500,4000,4500],"labels":false,"title":null}},"y":{"field":"y","type":"quantitative","scale":{"domain":[0,300],"nice":false,"zero":false,"reverse":true},"axis":{"orient":"left","zindex":1,"values":[0,100,200,300],"format":"d","title":null}},"detail":{"field":"s","type":"nominal"},"order":{"value":null}}},
 {"data":{"name":"c1lab"},"transform":[{"filter":"datum.o == 'flat'"}],"mark":{"type":"text","fontSize":42,"color":"#222222","align":"center","baseline":"middle"},"encoding":{"x":{"field":"x","type":"quantitative","scale":{"domain":[0,4750],"nice":false,"zero":false},"axis":null},"y":{"field":"y","type":"quantitative","scale":{"domain":[0,300],"nice":false,"zero":false,"reverse":true},"axis":null},"text":{"field":"t","type":"nominal"}}},
 {"data":{"name":"c1lab"},"transform":[{"filter":"datum.o == 'up'"}],"mark":{"type":"text","fontSize":42,"color":"#222222","align":"center","baseline":"middle","angle":295},"encoding":{"x":{"field":"x","type":"quantitative","scale":{"domain":[0,4750],"nice":false,"zero":false},"axis":null},"y":{"field":"y","type":"quantitative","scale":{"domain":[0,300],"nice":false,"zero":false,"reverse":true},"axis":null},"text":{"field":"t","type":"nominal"}}},
 {"data":{"name":"c1lab"},"transform":[{"filter":"datum.o == 'down'"}],"mark":{"type":"text","fontSize":42,"color":"#222222","align":"center","baseline":"middle","angle":35},"encoding":{"x":{"field":"x","type":"quantitative","scale":{"domain":[0,4750],"nice":false,"zero":false},"axis":null},"y":{"field":"y","type":"quantitative","scale":{"domain":[0,300],"nice":false,"zero":false,"reverse":true},"axis":null},"text":{"field":"t","type":"nominal"}}},
 {"data":{"name":"boxes"},"transform":[{"filter":"datum.p == 'La'"}],"mark":{"type":"rect","fill":"#E6E6E6"},"encoding":{"x":{"field":"x1","type":"quantitative","scale":{"domain":[0,4750],"nice":false,"zero":false},"axis":null},"x2":{"field":"x2"},"y":{"field":"y1","type":"quantitative","scale":{"domain":[0,300],"nice":false,"zero":false,"reverse":true},"axis":null},"y2":{"field":"y2"}}},
 {"data":{"name":"boxes"},"transform":[{"filter":"datum.p == 'La' && datum.k == 'sp'"}],"mark":{"type":"text","fontSize":40,"color":"#1a1a1a","align":"center","baseline":"middle","lineHeight":55},"encoding":{"x":{"field":"xc","type":"quantitative","scale":{"domain":[0,4750],"nice":false,"zero":false},"axis":null},"y":{"field":"yc","type":"quantitative","scale":{"domain":[0,300],"nice":false,"zero":false,"reverse":true},"axis":null},"text":{"field":"lab","type":"nominal"}}},
 {"data":{"name":"boxes"},"transform":[{"filter":"datum.p == 'La' && datum.k == 'let'"}],"mark":{"type":"text","fontSize":38,"fontWeight":"bold","color":"#1a1a1a","align":"center","baseline":"middle"},"encoding":{"x":{"field":"xc","type":"quantitative","scale":{"domain":[0,4750],"nice":false,"zero":false},"axis":null},"y":{"field":"yc","type":"quantitative","scale":{"domain":[0,300],"nice":false,"zero":false,"reverse":true},"axis":null},"text":{"field":"lab","type":"nominal"}}},
 {"data":{"name":"obs"},"transform":[{"filter":"datum.p == 'La' && datum.abund > 0"}],"mark":{"type":"point","shape":"circle","filled":true,"stroke":"#111111","strokeWidth":2.5,"opacity":1},"encoding":{"x":{"field":"dist","type":"quantitative","scale":{"domain":[0,4750],"nice":false,"zero":false},"axis":null},"y":{"field":"depth","type":"quantitative","scale":{"domain":[0,300],"nice":false,"zero":false,"reverse":true},"axis":null},"size":{"field":"abund","type":"quantitative","scale":{"type":"symlog","domain":[0,0.3,1,10,100],"range":[784,64,330,1924,5345]},"legend":null},"fill":{"field":"grp","type":"nominal","scale":{"domain":["g1","g2","g3","g4"],"range":["#F2F2F2","#999999","#E466DE","#EAE46E"]},"legend":null}}},
 {"data":{"name":"obs"},"transform":[{"filter":"datum.p == 'La' && datum.abund == 0"}],"mark":{"type":"point","shape":"M-1,-1L1,1M1,-1L-1,1","size":784,"filled":false,"stroke":"#111111","strokeWidth":4.5,"opacity":1},"encoding":{"x":{"field":"dist","type":"quantitative","scale":{"domain":[0,4750],"nice":false,"zero":false},"axis":{"orient":"top","zindex":1,"values":[0,500,1000,1500,2000,2500,3000,3500,4000,4500],"labels":false,"title":null}},"y":{"field":"depth","type":"quantitative","scale":{"domain":[0,300],"nice":false,"zero":false,"reverse":true},"axis":{"orient":"right","zindex":1,"values":[0,100,200,300],"labels":false,"title":null}}}},
 {"data":{"name":"stations"},"mark":{"type":"text","angle":270,"align":"left","baseline":"middle","dx":20,"fontSize":40,"fontWeight":"bold","color":"#111111"},"encoding":{"x":{"field":"dist","type":"quantitative","scale":{"domain":[0,4750],"nice":false,"zero":false},"axis":null},"y":{"datum":0,"type":"quantitative","scale":{"domain":[0,300],"nice":false,"zero":false,"reverse":true},"axis":null},"text":{"field":"st","type":"nominal"}}}
]},
{"width":1438,"height":389,"resolve":{"axis":{"x":"independent","y":"independent"}},"layer":[
 {"data":{"name":"c1"},"mark":{"type":"line","color":"#2a2a2a","strokeWidth":2},"encoding":{"x":{"field":"x","type":"quantitative","scale":{"domain":[0,4750],"nice":false,"zero":false},"axis":{"orient":"bottom","values":[0,500,1000,1500,2000,2500,3000,3500,4000,4500],"labels":false,"title":null}},"y":{"field":"y","type":"quantitative","scale":{"domain":[0,300],"nice":false,"zero":false,"reverse":true},"axis":{"orient":"left","values":[0,100,200,300],"format":"d","title":null}},"detail":{"field":"s","type":"nominal"},"order":{"value":null}}},
 {"data":{"name":"c1lab"},"transform":[{"filter":"datum.o == 'flat'"}],"mark":{"type":"text","fontSize":42,"color":"#222222","align":"center","baseline":"middle"},"encoding":{"x":{"field":"x","type":"quantitative","scale":{"domain":[0,4750],"nice":false,"zero":false},"axis":null},"y":{"field":"y","type":"quantitative","scale":{"domain":[0,300],"nice":false,"zero":false,"reverse":true},"axis":null},"text":{"field":"t","type":"nominal"}}},
 {"data":{"name":"c1lab"},"transform":[{"filter":"datum.o == 'up'"}],"mark":{"type":"text","fontSize":42,"color":"#222222","align":"center","baseline":"middle","angle":295},"encoding":{"x":{"field":"x","type":"quantitative","scale":{"domain":[0,4750],"nice":false,"zero":false},"axis":null},"y":{"field":"y","type":"quantitative","scale":{"domain":[0,300],"nice":false,"zero":false,"reverse":true},"axis":null},"text":{"field":"t","type":"nominal"}}},
 {"data":{"name":"c1lab"},"transform":[{"filter":"datum.o == 'down'"}],"mark":{"type":"text","fontSize":42,"color":"#222222","align":"center","baseline":"middle","angle":35},"encoding":{"x":{"field":"x","type":"quantitative","scale":{"domain":[0,4750],"nice":false,"zero":false},"axis":null},"y":{"field":"y","type":"quantitative","scale":{"domain":[0,300],"nice":false,"zero":false,"reverse":true},"axis":null},"text":{"field":"t","type":"nominal"}}},
 {"data":{"name":"boxes"},"transform":[{"filter":"datum.p == 'Lb'"}],"mark":{"type":"rect","fill":"#E6E6E6"},"encoding":{"x":{"field":"x1","type":"quantitative","scale":{"domain":[0,4750],"nice":false,"zero":false},"axis":null},"x2":{"field":"x2"},"y":{"field":"y1","type":"quantitative","scale":{"domain":[0,300],"nice":false,"zero":false,"reverse":true},"axis":null},"y2":{"field":"y2"}}},
 {"data":{"name":"boxes"},"transform":[{"filter":"datum.p == 'Lb' && datum.k == 'sp'"}],"mark":{"type":"text","fontSize":40,"color":"#1a1a1a","align":"center","baseline":"middle","lineHeight":55},"encoding":{"x":{"field":"xc","type":"quantitative","scale":{"domain":[0,4750],"nice":false,"zero":false},"axis":null},"y":{"field":"yc","type":"quantitative","scale":{"domain":[0,300],"nice":false,"zero":false,"reverse":true},"axis":null},"text":{"field":"lab","type":"nominal"}}},
 {"data":{"name":"boxes"},"transform":[{"filter":"datum.p == 'Lb' && datum.k == 'let'"}],"mark":{"type":"text","fontSize":38,"fontWeight":"bold","color":"#1a1a1a","align":"center","baseline":"middle"},"encoding":{"x":{"field":"xc","type":"quantitative","scale":{"domain":[0,4750],"nice":false,"zero":false},"axis":null},"y":{"field":"yc","type":"quantitative","scale":{"domain":[0,300],"nice":false,"zero":false,"reverse":true},"axis":null},"text":{"field":"lab","type":"nominal"}}},
 {"data":{"name":"obs"},"transform":[{"filter":"datum.p == 'Lb' && datum.abund > 0"}],"mark":{"type":"point","shape":"circle","filled":true,"stroke":"#111111","strokeWidth":2.5,"opacity":1},"encoding":{"x":{"field":"dist","type":"quantitative","scale":{"domain":[0,4750],"nice":false,"zero":false},"axis":null},"y":{"field":"depth","type":"quantitative","scale":{"domain":[0,300],"nice":false,"zero":false,"reverse":true},"axis":null},"size":{"field":"abund","type":"quantitative","scale":{"type":"symlog","domain":[0,0.3,1,10,100],"range":[784,64,330,1924,5345]},"legend":null},"fill":{"field":"grp","type":"nominal","scale":{"domain":["g1","g2","g3","g4"],"range":["#F2F2F2","#999999","#E466DE","#EAE46E"]},"legend":null}}},
 {"data":{"name":"obs"},"transform":[{"filter":"datum.p == 'Lb' && datum.abund == 0"}],"mark":{"type":"point","shape":"M-1,-1L1,1M1,-1L-1,1","size":784,"filled":false,"stroke":"#111111","strokeWidth":4.5,"opacity":1},"encoding":{"x":{"field":"dist","type":"quantitative","scale":{"domain":[0,4750],"nice":false,"zero":false},"axis":{"orient":"top","values":[0,500,1000,1500,2000,2500,3000,3500,4000,4500],"labels":false,"title":null}},"y":{"field":"depth","type":"quantitative","scale":{"domain":[0,300],"nice":false,"zero":false,"reverse":true},"axis":{"orient":"right","values":[0,100,200,300],"labels":false,"title":null}}}}
]},
{"width":1438,"height":389,"resolve":{"axis":{"x":"independent","y":"independent"}},"layer":[
 {"data":{"name":"c1"},"mark":{"type":"line","color":"#2a2a2a","strokeWidth":2},"encoding":{"x":{"field":"x","type":"quantitative","scale":{"domain":[0,4750],"nice":false,"zero":false},"axis":{"orient":"bottom","values":[0,500,1000,1500,2000,2500,3000,3500,4000,4500],"labels":false,"title":null}},"y":{"field":"y","type":"quantitative","scale":{"domain":[0,300],"nice":false,"zero":false,"reverse":true},"axis":{"orient":"left","values":[0,100,200,300],"format":"d","title":null}},"detail":{"field":"s","type":"nominal"},"order":{"value":null}}},
 {"data":{"name":"c1lab"},"transform":[{"filter":"datum.o == 'flat'"}],"mark":{"type":"text","fontSize":42,"color":"#222222","align":"center","baseline":"middle"},"encoding":{"x":{"field":"x","type":"quantitative","scale":{"domain":[0,4750],"nice":false,"zero":false},"axis":null},"y":{"field":"y","type":"quantitative","scale":{"domain":[0,300],"nice":false,"zero":false,"reverse":true},"axis":null},"text":{"field":"t","type":"nominal"}}},
 {"data":{"name":"c1lab"},"transform":[{"filter":"datum.o == 'up'"}],"mark":{"type":"text","fontSize":42,"color":"#222222","align":"center","baseline":"middle","angle":295},"encoding":{"x":{"field":"x","type":"quantitative","scale":{"domain":[0,4750],"nice":false,"zero":false},"axis":null},"y":{"field":"y","type":"quantitative","scale":{"domain":[0,300],"nice":false,"zero":false,"reverse":true},"axis":null},"text":{"field":"t","type":"nominal"}}},
 {"data":{"name":"c1lab"},"transform":[{"filter":"datum.o == 'down'"}],"mark":{"type":"text","fontSize":42,"color":"#222222","align":"center","baseline":"middle","angle":35},"encoding":{"x":{"field":"x","type":"quantitative","scale":{"domain":[0,4750],"nice":false,"zero":false},"axis":null},"y":{"field":"y","type":"quantitative","scale":{"domain":[0,300],"nice":false,"zero":false,"reverse":true},"axis":null},"text":{"field":"t","type":"nominal"}}},
 {"data":{"name":"boxes"},"transform":[{"filter":"datum.p == 'Lc'"}],"mark":{"type":"rect","fill":"#E6E6E6"},"encoding":{"x":{"field":"x1","type":"quantitative","scale":{"domain":[0,4750],"nice":false,"zero":false},"axis":null},"x2":{"field":"x2"},"y":{"field":"y1","type":"quantitative","scale":{"domain":[0,300],"nice":false,"zero":false,"reverse":true},"axis":null},"y2":{"field":"y2"}}},
 {"data":{"name":"boxes"},"transform":[{"filter":"datum.p == 'Lc' && datum.k == 'sp'"}],"mark":{"type":"text","fontSize":40,"color":"#1a1a1a","align":"center","baseline":"middle","lineHeight":55},"encoding":{"x":{"field":"xc","type":"quantitative","scale":{"domain":[0,4750],"nice":false,"zero":false},"axis":null},"y":{"field":"yc","type":"quantitative","scale":{"domain":[0,300],"nice":false,"zero":false,"reverse":true},"axis":null},"text":{"field":"lab","type":"nominal"}}},
 {"data":{"name":"boxes"},"transform":[{"filter":"datum.p == 'Lc' && datum.k == 'let'"}],"mark":{"type":"text","fontSize":38,"fontWeight":"bold","color":"#1a1a1a","align":"center","baseline":"middle"},"encoding":{"x":{"field":"xc","type":"quantitative","scale":{"domain":[0,4750],"nice":false,"zero":false},"axis":null},"y":{"field":"yc","type":"quantitative","scale":{"domain":[0,300],"nice":false,"zero":false,"reverse":true},"axis":null},"text":{"field":"lab","type":"nominal"}}},
 {"data":{"name":"obs"},"transform":[{"filter":"datum.p == 'Lc' && datum.abund > 0"}],"mark":{"type":"point","shape":"circle","filled":true,"stroke":"#111111","strokeWidth":2.5,"opacity":1},"encoding":{"x":{"field":"dist","type":"quantitative","scale":{"domain":[0,4750],"nice":false,"zero":false},"axis":null},"y":{"field":"depth","type":"quantitative","scale":{"domain":[0,300],"nice":false,"zero":false,"reverse":true},"axis":null},"size":{"field":"abund","type":"quantitative","scale":{"type":"symlog","domain":[0,0.3,1,10,100],"range":[784,64,330,1924,5345]},"legend":null},"fill":{"field":"grp","type":"nominal","scale":{"domain":["g1","g2","g3","g4"],"range":["#F2F2F2","#999999","#E466DE","#EAE46E"]},"legend":null}}},
 {"data":{"name":"obs"},"transform":[{"filter":"datum.p == 'Lc' && datum.abund == 0"}],"mark":{"type":"point","shape":"M-1,-1L1,1M1,-1L-1,1","size":784,"filled":false,"stroke":"#111111","strokeWidth":4.5,"opacity":1},"encoding":{"x":{"field":"dist","type":"quantitative","scale":{"domain":[0,4750],"nice":false,"zero":false},"axis":{"orient":"top","values":[0,500,1000,1500,2000,2500,3000,3500,4000,4500],"labels":false,"title":null}},"y":{"field":"depth","type":"quantitative","scale":{"domain":[0,300],"nice":false,"zero":false,"reverse":true},"axis":{"orient":"right","values":[0,100,200,300],"labels":false,"title":null}}}}
]},
{"width":1438,"height":389,"resolve":{"axis":{"x":"independent","y":"independent"}},"layer":[
 {"data":{"name":"c1"},"mark":{"type":"line","color":"#2a2a2a","strokeWidth":2},"encoding":{"x":{"field":"x","type":"quantitative","scale":{"domain":[0,4750],"nice":false,"zero":false},"axis":{"orient":"bottom","values":[0,500,1000,1500,2000,2500,3000,3500,4000,4500],"labels":true,"format":"d","title":null}},"y":{"field":"y","type":"quantitative","scale":{"domain":[0,300],"nice":false,"zero":false,"reverse":true},"axis":{"orient":"left","values":[0,100,200,300],"format":"d","title":null}},"detail":{"field":"s","type":"nominal"},"order":{"value":null}}},
 {"data":{"name":"c1lab"},"transform":[{"filter":"datum.o == 'flat'"}],"mark":{"type":"text","fontSize":42,"color":"#222222","align":"center","baseline":"middle"},"encoding":{"x":{"field":"x","type":"quantitative","scale":{"domain":[0,4750],"nice":false,"zero":false},"axis":null},"y":{"field":"y","type":"quantitative","scale":{"domain":[0,300],"nice":false,"zero":false,"reverse":true},"axis":null},"text":{"field":"t","type":"nominal"}}},
 {"data":{"name":"c1lab"},"transform":[{"filter":"datum.o == 'up'"}],"mark":{"type":"text","fontSize":42,"color":"#222222","align":"center","baseline":"middle","angle":295},"encoding":{"x":{"field":"x","type":"quantitative","scale":{"domain":[0,4750],"nice":false,"zero":false},"axis":null},"y":{"field":"y","type":"quantitative","scale":{"domain":[0,300],"nice":false,"zero":false,"reverse":true},"axis":null},"text":{"field":"t","type":"nominal"}}},
 {"data":{"name":"c1lab"},"transform":[{"filter":"datum.o == 'down'"}],"mark":{"type":"text","fontSize":42,"color":"#222222","align":"center","baseline":"middle","angle":35},"encoding":{"x":{"field":"x","type":"quantitative","scale":{"domain":[0,4750],"nice":false,"zero":false},"axis":null},"y":{"field":"y","type":"quantitative","scale":{"domain":[0,300],"nice":false,"zero":false,"reverse":true},"axis":null},"text":{"field":"t","type":"nominal"}}},
 {"data":{"name":"boxes"},"transform":[{"filter":"datum.p == 'Ld'"}],"mark":{"type":"rect","fill":"#E6E6E6"},"encoding":{"x":{"field":"x1","type":"quantitative","scale":{"domain":[0,4750],"nice":false,"zero":false},"axis":null},"x2":{"field":"x2"},"y":{"field":"y1","type":"quantitative","scale":{"domain":[0,300],"nice":false,"zero":false,"reverse":true},"axis":null},"y2":{"field":"y2"}}},
 {"data":{"name":"boxes"},"transform":[{"filter":"datum.p == 'Ld' && datum.k == 'sp'"}],"mark":{"type":"text","fontSize":40,"color":"#1a1a1a","align":"center","baseline":"middle","lineHeight":55},"encoding":{"x":{"field":"xc","type":"quantitative","scale":{"domain":[0,4750],"nice":false,"zero":false},"axis":null},"y":{"field":"yc","type":"quantitative","scale":{"domain":[0,300],"nice":false,"zero":false,"reverse":true},"axis":null},"text":{"field":"lab","type":"nominal"}}},
 {"data":{"name":"boxes"},"transform":[{"filter":"datum.p == 'Ld' && datum.k == 'let'"}],"mark":{"type":"text","fontSize":38,"fontWeight":"bold","color":"#1a1a1a","align":"center","baseline":"middle"},"encoding":{"x":{"field":"xc","type":"quantitative","scale":{"domain":[0,4750],"nice":false,"zero":false},"axis":null},"y":{"field":"yc","type":"quantitative","scale":{"domain":[0,300],"nice":false,"zero":false,"reverse":true},"axis":null},"text":{"field":"lab","type":"nominal"}}},
 {"data":{"name":"obs"},"transform":[{"filter":"datum.p == 'Ld' && datum.abund > 0"}],"mark":{"type":"point","shape":"circle","filled":true,"stroke":"#111111","strokeWidth":2.5,"opacity":1},"encoding":{"x":{"field":"dist","type":"quantitative","scale":{"domain":[0,4750],"nice":false,"zero":false},"axis":null},"y":{"field":"depth","type":"quantitative","scale":{"domain":[0,300],"nice":false,"zero":false,"reverse":true},"axis":null},"size":{"field":"abund","type":"quantitative","scale":{"type":"symlog","domain":[0,0.3,1,10,100],"range":[784,64,330,1924,5345]},"legend":null},"fill":{"field":"grp","type":"nominal","scale":{"domain":["g1","g2","g3","g4"],"range":["#F2F2F2","#999999","#E466DE","#EAE46E"]},"legend":null}}},
 {"data":{"name":"obs"},"transform":[{"filter":"datum.p == 'Ld' && datum.abund == 0"}],"mark":{"type":"point","shape":"M-1,-1L1,1M1,-1L-1,1","size":784,"filled":false,"stroke":"#111111","strokeWidth":4.5,"opacity":1},"encoding":{"x":{"field":"dist","type":"quantitative","scale":{"domain":[0,4750],"nice":false,"zero":false},"axis":{"orient":"top","values":[0,500,1000,1500,2000,2500,3000,3500,4000,4500],"labels":false,"title":null}},"y":{"field":"depth","type":"quantitative","scale":{"domain":[0,300],"nice":false,"zero":false,"reverse":true},"axis":{"orient":"right","values":[0,100,200,300],"labels":false,"title":null}}}}
]}
]},
{"bounds":"flush","spacing":41,"resolve":{"scale":{"size":"independent","fill":"independent","shape":"independent"}},"vconcat":[
{"width":1440,"height":392,"resolve":{"axis":{"x":"independent","y":"independent"}},"layer":[
 {"data":{"values":[{}]},"mark":{"type":"rect","fill":"#ffffff"},"encoding":{"x":{"datum":-684.5,"type":"quantitative","scale":{"domain":[0,4750],"nice":false,"zero":false},"axis":null},"x2":{"datum":5592},"y":{"datum":-125.5,"type":"quantitative","scale":{"domain":[0,300],"nice":false,"zero":false,"reverse":true},"axis":null},"y2":{"datum":1382.5}}},
 {"data":{"name":"c1"},"mark":{"type":"line","color":"#2a2a2a","strokeWidth":2},"encoding":{"x":{"field":"x","type":"quantitative","scale":{"domain":[0,4750],"nice":false,"zero":false},"axis":{"orient":"bottom","zindex":1,"values":[0,500,1000,1500,2000,2500,3000,3500,4000,4500],"labels":false,"title":null}},"y":{"field":"y","type":"quantitative","scale":{"domain":[0,300],"nice":false,"zero":false,"reverse":true},"axis":{"orient":"left","zindex":1,"values":[0,100,200,300],"format":"d","title":null}},"detail":{"field":"s","type":"nominal"},"order":{"value":null}}},
 {"data":{"name":"c1lab"},"transform":[{"filter":"datum.o == 'flat'"}],"mark":{"type":"text","fontSize":42,"color":"#222222","align":"center","baseline":"middle"},"encoding":{"x":{"field":"x","type":"quantitative","scale":{"domain":[0,4750],"nice":false,"zero":false},"axis":null},"y":{"field":"y","type":"quantitative","scale":{"domain":[0,300],"nice":false,"zero":false,"reverse":true},"axis":null},"text":{"field":"t","type":"nominal"}}},
 {"data":{"name":"c1lab"},"transform":[{"filter":"datum.o == 'up'"}],"mark":{"type":"text","fontSize":42,"color":"#222222","align":"center","baseline":"middle","angle":295},"encoding":{"x":{"field":"x","type":"quantitative","scale":{"domain":[0,4750],"nice":false,"zero":false},"axis":null},"y":{"field":"y","type":"quantitative","scale":{"domain":[0,300],"nice":false,"zero":false,"reverse":true},"axis":null},"text":{"field":"t","type":"nominal"}}},
 {"data":{"name":"c1lab"},"transform":[{"filter":"datum.o == 'down'"}],"mark":{"type":"text","fontSize":42,"color":"#222222","align":"center","baseline":"middle","angle":35},"encoding":{"x":{"field":"x","type":"quantitative","scale":{"domain":[0,4750],"nice":false,"zero":false},"axis":null},"y":{"field":"y","type":"quantitative","scale":{"domain":[0,300],"nice":false,"zero":false,"reverse":true},"axis":null},"text":{"field":"t","type":"nominal"}}},
 {"data":{"name":"boxes"},"transform":[{"filter":"datum.p == 'Ra'"}],"mark":{"type":"rect","fill":"#E6E6E6"},"encoding":{"x":{"field":"x1","type":"quantitative","scale":{"domain":[0,4750],"nice":false,"zero":false},"axis":null},"x2":{"field":"x2"},"y":{"field":"y1","type":"quantitative","scale":{"domain":[0,300],"nice":false,"zero":false,"reverse":true},"axis":null},"y2":{"field":"y2"}}},
 {"data":{"name":"boxes"},"transform":[{"filter":"datum.p == 'Ra' && datum.k == 'sp'"}],"mark":{"type":"text","fontSize":40,"color":"#1a1a1a","align":"center","baseline":"middle","lineHeight":55},"encoding":{"x":{"field":"xc","type":"quantitative","scale":{"domain":[0,4750],"nice":false,"zero":false},"axis":null},"y":{"field":"yc","type":"quantitative","scale":{"domain":[0,300],"nice":false,"zero":false,"reverse":true},"axis":null},"text":{"field":"lab","type":"nominal"}}},
 {"data":{"name":"boxes"},"transform":[{"filter":"datum.p == 'Ra' && datum.k == 'let'"}],"mark":{"type":"text","fontSize":38,"fontWeight":"bold","color":"#1a1a1a","align":"center","baseline":"middle"},"encoding":{"x":{"field":"xc","type":"quantitative","scale":{"domain":[0,4750],"nice":false,"zero":false},"axis":null},"y":{"field":"yc","type":"quantitative","scale":{"domain":[0,300],"nice":false,"zero":false,"reverse":true},"axis":null},"text":{"field":"lab","type":"nominal"}}},
 {"data":{"name":"obs"},"transform":[{"filter":"datum.p == 'Ra' && datum.abund > 0"}],"mark":{"type":"point","shape":"circle","filled":true,"stroke":"#111111","strokeWidth":2.5,"opacity":1},"encoding":{"x":{"field":"dist","type":"quantitative","scale":{"domain":[0,4750],"nice":false,"zero":false},"axis":null},"y":{"field":"depth","type":"quantitative","scale":{"domain":[0,300],"nice":false,"zero":false,"reverse":true},"axis":null},"size":{"field":"abund","type":"quantitative","scale":{"type":"symlog","domain":[0,0.3,1,10,100],"range":[784,64,330,1924,5345]},"legend":null},"fill":{"field":"grp","type":"nominal","scale":{"domain":["g1","g2","g3","g4"],"range":["#F2F2F2","#999999","#E466DE","#EAE46E"]},"legend":null}}},
 {"data":{"name":"obs"},"transform":[{"filter":"datum.p == 'Ra' && datum.abund == 0"}],"mark":{"type":"point","shape":"M-1,-1L1,1M1,-1L-1,1","size":784,"filled":false,"stroke":"#111111","strokeWidth":4.5,"opacity":1},"encoding":{"x":{"field":"dist","type":"quantitative","scale":{"domain":[0,4750],"nice":false,"zero":false},"axis":{"orient":"top","zindex":1,"values":[0,500,1000,1500,2000,2500,3000,3500,4000,4500],"labels":false,"title":null}},"y":{"field":"depth","type":"quantitative","scale":{"domain":[0,300],"nice":false,"zero":false,"reverse":true},"axis":{"orient":"right","zindex":1,"values":[0,100,200,300],"labels":false,"title":null}}}},
 {"data":{"name":"stations"},"mark":{"type":"text","angle":270,"align":"left","baseline":"middle","dx":20,"fontSize":40,"fontWeight":"bold","color":"#111111"},"encoding":{"x":{"field":"dist","type":"quantitative","scale":{"domain":[0,4750],"nice":false,"zero":false},"axis":null},"y":{"datum":0,"type":"quantitative","scale":{"domain":[0,300],"nice":false,"zero":false,"reverse":true},"axis":null},"text":{"field":"st","type":"nominal"}}}
]},
{"width":1440,"height":392,"resolve":{"axis":{"x":"independent","y":"independent"}},"layer":[
 {"data":{"name":"c1"},"mark":{"type":"line","color":"#2a2a2a","strokeWidth":2},"encoding":{"x":{"field":"x","type":"quantitative","scale":{"domain":[0,4750],"nice":false,"zero":false},"axis":{"orient":"bottom","values":[0,500,1000,1500,2000,2500,3000,3500,4000,4500],"labels":false,"title":null}},"y":{"field":"y","type":"quantitative","scale":{"domain":[0,300],"nice":false,"zero":false,"reverse":true},"axis":{"orient":"left","values":[0,100,200,300],"format":"d","title":null}},"detail":{"field":"s","type":"nominal"},"order":{"value":null}}},
 {"data":{"name":"c1lab"},"transform":[{"filter":"datum.o == 'flat'"}],"mark":{"type":"text","fontSize":42,"color":"#222222","align":"center","baseline":"middle"},"encoding":{"x":{"field":"x","type":"quantitative","scale":{"domain":[0,4750],"nice":false,"zero":false},"axis":null},"y":{"field":"y","type":"quantitative","scale":{"domain":[0,300],"nice":false,"zero":false,"reverse":true},"axis":null},"text":{"field":"t","type":"nominal"}}},
 {"data":{"name":"c1lab"},"transform":[{"filter":"datum.o == 'up'"}],"mark":{"type":"text","fontSize":42,"color":"#222222","align":"center","baseline":"middle","angle":295},"encoding":{"x":{"field":"x","type":"quantitative","scale":{"domain":[0,4750],"nice":false,"zero":false},"axis":null},"y":{"field":"y","type":"quantitative","scale":{"domain":[0,300],"nice":false,"zero":false,"reverse":true},"axis":null},"text":{"field":"t","type":"nominal"}}},
 {"data":{"name":"c1lab"},"transform":[{"filter":"datum.o == 'down'"}],"mark":{"type":"text","fontSize":42,"color":"#222222","align":"center","baseline":"middle","angle":35},"encoding":{"x":{"field":"x","type":"quantitative","scale":{"domain":[0,4750],"nice":false,"zero":false},"axis":null},"y":{"field":"y","type":"quantitative","scale":{"domain":[0,300],"nice":false,"zero":false,"reverse":true},"axis":null},"text":{"field":"t","type":"nominal"}}},
 {"data":{"name":"boxes"},"transform":[{"filter":"datum.p == 'Rb'"}],"mark":{"type":"rect","fill":"#E6E6E6"},"encoding":{"x":{"field":"x1","type":"quantitative","scale":{"domain":[0,4750],"nice":false,"zero":false},"axis":null},"x2":{"field":"x2"},"y":{"field":"y1","type":"quantitative","scale":{"domain":[0,300],"nice":false,"zero":false,"reverse":true},"axis":null},"y2":{"field":"y2"}}},
 {"data":{"name":"boxes"},"transform":[{"filter":"datum.p == 'Rb' && datum.k == 'sp'"}],"mark":{"type":"text","fontSize":40,"color":"#1a1a1a","align":"center","baseline":"middle","lineHeight":55},"encoding":{"x":{"field":"xc","type":"quantitative","scale":{"domain":[0,4750],"nice":false,"zero":false},"axis":null},"y":{"field":"yc","type":"quantitative","scale":{"domain":[0,300],"nice":false,"zero":false,"reverse":true},"axis":null},"text":{"field":"lab","type":"nominal"}}},
 {"data":{"name":"boxes"},"transform":[{"filter":"datum.p == 'Rb' && datum.k == 'let'"}],"mark":{"type":"text","fontSize":38,"fontWeight":"bold","color":"#1a1a1a","align":"center","baseline":"middle"},"encoding":{"x":{"field":"xc","type":"quantitative","scale":{"domain":[0,4750],"nice":false,"zero":false},"axis":null},"y":{"field":"yc","type":"quantitative","scale":{"domain":[0,300],"nice":false,"zero":false,"reverse":true},"axis":null},"text":{"field":"lab","type":"nominal"}}},
 {"data":{"name":"obs"},"transform":[{"filter":"datum.p == 'Rb' && datum.abund > 0"}],"mark":{"type":"point","shape":"circle","filled":true,"stroke":"#111111","strokeWidth":2.5,"opacity":1},"encoding":{"x":{"field":"dist","type":"quantitative","scale":{"domain":[0,4750],"nice":false,"zero":false},"axis":null},"y":{"field":"depth","type":"quantitative","scale":{"domain":[0,300],"nice":false,"zero":false,"reverse":true},"axis":null},"size":{"field":"abund","type":"quantitative","scale":{"type":"symlog","domain":[0,0.3,1,10,100],"range":[784,64,330,1924,5345]},"legend":{"orient":"none","legendX":1499.5,"legendY":403,"values":[1,10,100],"format":"d","title":null,"labelFont":"Liberation Sans","labelFontSize":40,"labelColor":"#222222","labelOffset":24,"symbolOffset":19,"rowPadding":6,"padding":0,"symbolType":"circle","symbolFillColor":"transparent","symbolStrokeColor":"#111111","symbolStrokeWidth":3}},"fill":{"field":"grp","type":"nominal","scale":{"domain":["g1","g2","g3","g4"],"range":["#F2F2F2","#999999","#E466DE","#EAE46E"]},"legend":null}}},
 {"data":{"name":"obs"},"transform":[{"filter":"datum.p == 'Rb' && datum.abund == 0"}],"mark":{"type":"point","filled":false,"stroke":"#111111","strokeWidth":4.5,"opacity":1,"size":784},"encoding":{"x":{"field":"dist","type":"quantitative","scale":{"domain":[0,4750],"nice":false,"zero":false},"axis":{"orient":"top","values":[0,500,1000,1500,2000,2500,3000,3500,4000,4500],"labels":false,"title":null}},"y":{"field":"depth","type":"quantitative","scale":{"domain":[0,300],"nice":false,"zero":false,"reverse":true},"axis":{"orient":"right","values":[0,100,200,300],"labels":false,"title":null}},"shape":{"field":"abund","type":"nominal","scale":{"domain":[0],"range":["M-1,-1L1,1M1,-1L-1,1"]},"legend":{"orient":"none","legendX":1499.5,"legendY":213,"title":["Paralarvae","1000 m⁻³"],"titleLimit":0,"titleFont":"Liberation Sans","titleFontSize":38,"titleFontWeight":"bold","titleColor":"#000000","titleAlign":"center","titleAnchor":"middle","titleLineHeight":66,"titlePadding":30,"labelFont":"Liberation Sans","labelFontSize":40,"labelColor":"#222222","labelOffset":39,"symbolOffset":26,"symbolSize":784,"symbolStrokeWidth":8,"symbolStrokeColor":"#111111","symbolFillColor":"transparent","padding":0}}}}
]},
{"width":1440,"height":392,"resolve":{"axis":{"x":"independent","y":"independent"}},"layer":[
 {"data":{"name":"c1"},"mark":{"type":"line","color":"#2a2a2a","strokeWidth":2},"encoding":{"x":{"field":"x","type":"quantitative","scale":{"domain":[0,4750],"nice":false,"zero":false},"axis":{"orient":"bottom","values":[0,500,1000,1500,2000,2500,3000,3500,4000,4500],"labels":false,"title":null}},"y":{"field":"y","type":"quantitative","scale":{"domain":[0,300],"nice":false,"zero":false,"reverse":true},"axis":{"orient":"left","values":[0,100,200,300],"format":"d","title":null}},"detail":{"field":"s","type":"nominal"},"order":{"value":null}}},
 {"data":{"name":"c1lab"},"transform":[{"filter":"datum.o == 'flat'"}],"mark":{"type":"text","fontSize":42,"color":"#222222","align":"center","baseline":"middle"},"encoding":{"x":{"field":"x","type":"quantitative","scale":{"domain":[0,4750],"nice":false,"zero":false},"axis":null},"y":{"field":"y","type":"quantitative","scale":{"domain":[0,300],"nice":false,"zero":false,"reverse":true},"axis":null},"text":{"field":"t","type":"nominal"}}},
 {"data":{"name":"c1lab"},"transform":[{"filter":"datum.o == 'up'"}],"mark":{"type":"text","fontSize":42,"color":"#222222","align":"center","baseline":"middle","angle":295},"encoding":{"x":{"field":"x","type":"quantitative","scale":{"domain":[0,4750],"nice":false,"zero":false},"axis":null},"y":{"field":"y","type":"quantitative","scale":{"domain":[0,300],"nice":false,"zero":false,"reverse":true},"axis":null},"text":{"field":"t","type":"nominal"}}},
 {"data":{"name":"c1lab"},"transform":[{"filter":"datum.o == 'down'"}],"mark":{"type":"text","fontSize":42,"color":"#222222","align":"center","baseline":"middle","angle":35},"encoding":{"x":{"field":"x","type":"quantitative","scale":{"domain":[0,4750],"nice":false,"zero":false},"axis":null},"y":{"field":"y","type":"quantitative","scale":{"domain":[0,300],"nice":false,"zero":false,"reverse":true},"axis":null},"text":{"field":"t","type":"nominal"}}},
 {"data":{"name":"boxes"},"transform":[{"filter":"datum.p == 'Rc'"}],"mark":{"type":"rect","fill":"#E6E6E6"},"encoding":{"x":{"field":"x1","type":"quantitative","scale":{"domain":[0,4750],"nice":false,"zero":false},"axis":null},"x2":{"field":"x2"},"y":{"field":"y1","type":"quantitative","scale":{"domain":[0,300],"nice":false,"zero":false,"reverse":true},"axis":null},"y2":{"field":"y2"}}},
 {"data":{"name":"boxes"},"transform":[{"filter":"datum.p == 'Rc' && datum.k == 'sp'"}],"mark":{"type":"text","fontSize":40,"color":"#1a1a1a","align":"center","baseline":"middle","lineHeight":55},"encoding":{"x":{"field":"xc","type":"quantitative","scale":{"domain":[0,4750],"nice":false,"zero":false},"axis":null},"y":{"field":"yc","type":"quantitative","scale":{"domain":[0,300],"nice":false,"zero":false,"reverse":true},"axis":null},"text":{"field":"lab","type":"nominal"}}},
 {"data":{"name":"boxes"},"transform":[{"filter":"datum.p == 'Rc' && datum.k == 'let'"}],"mark":{"type":"text","fontSize":38,"fontWeight":"bold","color":"#1a1a1a","align":"center","baseline":"middle"},"encoding":{"x":{"field":"xc","type":"quantitative","scale":{"domain":[0,4750],"nice":false,"zero":false},"axis":null},"y":{"field":"yc","type":"quantitative","scale":{"domain":[0,300],"nice":false,"zero":false,"reverse":true},"axis":null},"text":{"field":"lab","type":"nominal"}}},
 {"data":{"name":"obs"},"transform":[{"filter":"datum.p == 'Rc' && datum.abund > 0"}],"mark":{"type":"point","shape":"circle","filled":true,"stroke":"#111111","strokeWidth":2.5,"opacity":1},"encoding":{"x":{"field":"dist","type":"quantitative","scale":{"domain":[0,4750],"nice":false,"zero":false},"axis":null},"y":{"field":"depth","type":"quantitative","scale":{"domain":[0,300],"nice":false,"zero":false,"reverse":true},"axis":null},"size":{"field":"abund","type":"quantitative","scale":{"type":"symlog","domain":[0,0.3,1,10,100],"range":[784,64,330,1924,5345]},"legend":null},"fill":{"field":"grp","type":"nominal","scale":{"domain":["g1","g2","g3","g4"],"range":["#F2F2F2","#999999","#E466DE","#EAE46E"]},"legend":null}}},
 {"data":{"name":"obs"},"transform":[{"filter":"datum.p == 'Rc' && datum.abund == 0"}],"mark":{"type":"point","shape":"M-1,-1L1,1M1,-1L-1,1","size":784,"filled":false,"stroke":"#111111","strokeWidth":4.5,"opacity":1},"encoding":{"x":{"field":"dist","type":"quantitative","scale":{"domain":[0,4750],"nice":false,"zero":false},"axis":{"orient":"top","values":[0,500,1000,1500,2000,2500,3000,3500,4000,4500],"labels":false,"title":null}},"y":{"field":"depth","type":"quantitative","scale":{"domain":[0,300],"nice":false,"zero":false,"reverse":true},"axis":{"orient":"right","values":[0,100,200,300],"labels":false,"title":null}}}}
]},
{"width":1440,"height":392,"resolve":{"axis":{"x":"independent","y":"independent"}},"layer":[
 {"data":{"name":"c2"},"mark":{"type":"line","color":"#2a2a2a","strokeWidth":2},"encoding":{"x":{"field":"x","type":"quantitative","scale":{"domain":[0,4750],"nice":false,"zero":false},"axis":{"orient":"bottom","values":[0,500,1000,1500,2000,2500,3000,3500,4000,4500],"labels":true,"format":"d","title":null}},"y":{"field":"y","type":"quantitative","scale":{"domain":[0,1000],"nice":false,"zero":false,"reverse":true},"axis":{"orient":"left","values":[0,500,1000],"format":"d","title":null}},"detail":{"field":"s","type":"nominal"},"order":{"value":null}}},
 {"data":{"name":"c2lab"},"transform":[{"filter":"datum.o == 'flat'"}],"mark":{"type":"text","fontSize":42,"color":"#222222","align":"center","baseline":"middle"},"encoding":{"x":{"field":"x","type":"quantitative","scale":{"domain":[0,4750],"nice":false,"zero":false},"axis":null},"y":{"field":"y","type":"quantitative","scale":{"domain":[0,1000],"nice":false,"zero":false,"reverse":true},"axis":null},"text":{"field":"t","type":"nominal"}}},
 {"data":{"name":"c2lab"},"transform":[{"filter":"datum.o == 'up'"}],"mark":{"type":"text","fontSize":42,"color":"#222222","align":"center","baseline":"middle","angle":295},"encoding":{"x":{"field":"x","type":"quantitative","scale":{"domain":[0,4750],"nice":false,"zero":false},"axis":null},"y":{"field":"y","type":"quantitative","scale":{"domain":[0,1000],"nice":false,"zero":false,"reverse":true},"axis":null},"text":{"field":"t","type":"nominal"}}},
 {"data":{"name":"boxes"},"transform":[{"filter":"datum.p == 'Rd'"}],"mark":{"type":"rect","fill":"#E6E6E6"},"encoding":{"x":{"field":"x1","type":"quantitative","scale":{"domain":[0,4750],"nice":false,"zero":false},"axis":null},"x2":{"field":"x2"},"y":{"field":"y1","type":"quantitative","scale":{"domain":[0,1000],"nice":false,"zero":false,"reverse":true},"axis":null},"y2":{"field":"y2"}}},
 {"data":{"name":"boxes"},"transform":[{"filter":"datum.p == 'Rd' && datum.k == 'sp'"}],"mark":{"type":"text","fontSize":40,"color":"#1a1a1a","align":"center","baseline":"middle","lineHeight":55},"encoding":{"x":{"field":"xc","type":"quantitative","scale":{"domain":[0,4750],"nice":false,"zero":false},"axis":null},"y":{"field":"yc","type":"quantitative","scale":{"domain":[0,1000],"nice":false,"zero":false,"reverse":true},"axis":null},"text":{"field":"lab","type":"nominal"}}},
 {"data":{"name":"boxes"},"transform":[{"filter":"datum.p == 'Rd' && datum.k == 'let'"}],"mark":{"type":"text","fontSize":38,"fontWeight":"bold","color":"#1a1a1a","align":"center","baseline":"middle"},"encoding":{"x":{"field":"xc","type":"quantitative","scale":{"domain":[0,4750],"nice":false,"zero":false},"axis":null},"y":{"field":"yc","type":"quantitative","scale":{"domain":[0,1000],"nice":false,"zero":false,"reverse":true},"axis":null},"text":{"field":"lab","type":"nominal"}}},
 {"data":{"name":"obs"},"transform":[{"filter":"datum.p == 'Rd' && datum.abund > 0"}],"mark":{"type":"point","shape":"circle","filled":true,"stroke":"#111111","strokeWidth":2.5,"opacity":1},"encoding":{"x":{"field":"dist","type":"quantitative","scale":{"domain":[0,4750],"nice":false,"zero":false},"axis":null},"y":{"field":"depth","type":"quantitative","scale":{"domain":[0,1000],"nice":false,"zero":false,"reverse":true},"axis":null},"size":{"field":"abund","type":"quantitative","scale":{"type":"symlog","domain":[0,0.3,1,10,100],"range":[784,64,330,1924,5345]},"legend":null},"fill":{"field":"grp","type":"nominal","scale":{"domain":["g1","g2","g3","g4"],"range":["#F2F2F2","#999999","#E466DE","#EAE46E"]},"legend":null}}},
 {"data":{"name":"obs"},"transform":[{"filter":"datum.p == 'Rd' && datum.abund == 0"}],"mark":{"type":"point","shape":"M-1,-1L1,1M1,-1L-1,1","size":784,"filled":false,"stroke":"#111111","strokeWidth":4.5,"opacity":1},"encoding":{"x":{"field":"dist","type":"quantitative","scale":{"domain":[0,4750],"nice":false,"zero":false},"axis":{"orient":"top","values":[0,500,1000,1500,2000,2500,3000,3500,4000,4500],"labels":false,"title":null}},"y":{"field":"depth","type":"quantitative","scale":{"domain":[0,1000],"nice":false,"zero":false,"reverse":true},"axis":{"orient":"right","values":[0,500,1000],"labels":false,"title":null}}}}
]}
]}
]
}
